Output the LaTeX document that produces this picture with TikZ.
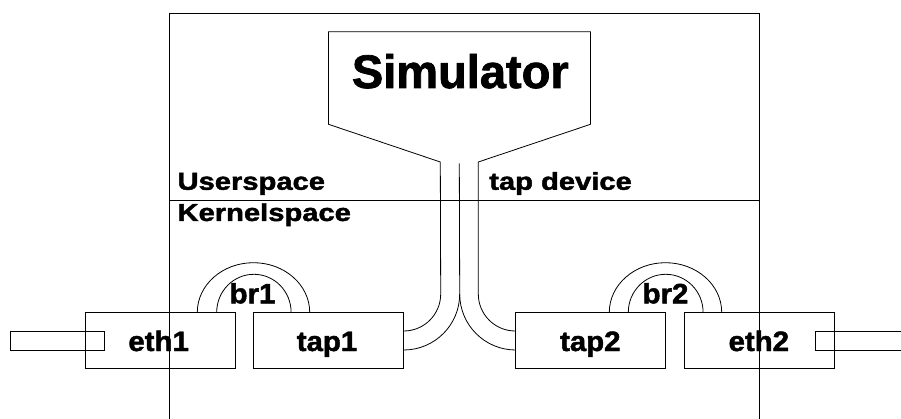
\documentclass[tikz,border=0pt]{standalone}
\usepackage{fontspec}
\setmainfont{Liberation Sans}[BoldFeatures={FakeBold=1.6}]
\newcommand\devfont{\fontsize{28pt}{31pt}\selectfont\bfseries}
\newcommand\areafont{\fontsize{24.5pt}{27pt}\selectfont\bfseries}
\newcommand\simfont{\fontsize{47pt}{50pt}\selectfont\bfseries}
\tikzset{
  wire/.style={line width=0.8pt, line join=miter},
  dev/.style={draw, line width=0.8pt, minimum width=150pt, minimum height=56.4pt,
    inner sep=0pt, text height=19.3pt, text depth=0pt},
  devtext/.style={inner sep=0pt, anchor=base, xscale=1.05, font=\devfont},
  area/.style={inner sep=0pt, anchor=base west, xscale=1.19, font=\areafont},
}
\begin{document}
\begin{tikzpicture}[x=1pt, y=-1pt]
  \useasboundingbox (0,0) rectangle (901,419);
  \clip (0,0) rectangle (901,419);

  % host frame and the user/kernel boundary
  \draw[wire] (169.3,13) rectangle (759,440);
  \draw[wire] (169.3,200) -- (759,200);

  % network devices
  \node[dev] (eth1) at (160,340.5) {};
  \node[dev] (tap1) at (328.3,340.5) {};
  \node[dev] (tap2) at (590.3,340.5) {};
  \node[dev] (eth2) at (759.3,340.5) {};
  \node[devtext] (eth1t) at (158.6,351) {eth1};
  \node[devtext] (tap1t) at (327,351) {tap1};
  \node[devtext] (tap2t) at (590.3,351) {tap2};
  \node[devtext] (eth2t) at (758.8,351) {eth2};

  % physical cables
  \draw[wire] (10,331.3) rectangle (104,350);
  \draw[wire] (815.7,331.3) rectangle (915,350);

  % bridges
  \draw[wire] (197.3,312.3) arc[start angle=180, end angle=360, x radius=56.2, y radius=49.6];
  \draw[wire] (216.7,312.3) arc[start angle=180, end angle=360, x radius=37.2, y radius=38];
  \draw[wire] (609.3,312.3) arc[start angle=180, end angle=360, x radius=56.2, y radius=49.6];
  \draw[wire] (628.3,312.3) arc[start angle=180, end angle=360, x radius=37.4, y radius=38];
  \node[devtext] (br1) at (252.5,303.3) {br1};
  \node[devtext] (br2) at (665.5,303.3) {br2};

  % simulator outline joined to the tap pipes
  \draw[wire] ([yshift=9.5pt]tap1.east) arc[start angle=90, end angle=0, radius=37]
    -- (440.3,162) -- (328.5,124.3) -- (328.5,31.7) -- (590.5,31.7) -- (590.5,124.3)
    -- (478.3,162) -- (478.3,294)
    arc[start angle=180, end angle=90, radius=37] -- ([yshift=9.5pt]tap2.west);
  \draw[wire] ([yshift=-9.5pt]tap1.east) arc[start angle=90, end angle=0, radius=56]
    coordinate (fork) -- (459.3,163.3);
  \draw[wire] (fork) arc[start angle=180, end angle=90, radius=56] -- ([yshift=-9.5pt]tap2.west);
  \node[inner sep=0pt, anchor=base, font=\simfont] (sim) at (460.3,88) {Simulator};

  % area labels
  \node[area] (user) at (177.3,189.8) {Userspace};
  \node[area] (kernel) at (177.3,221) {Kernelspace};
  \node[area] (tapdev) at (489,189.8) {tap device};
\end{tikzpicture}
\end{document}
